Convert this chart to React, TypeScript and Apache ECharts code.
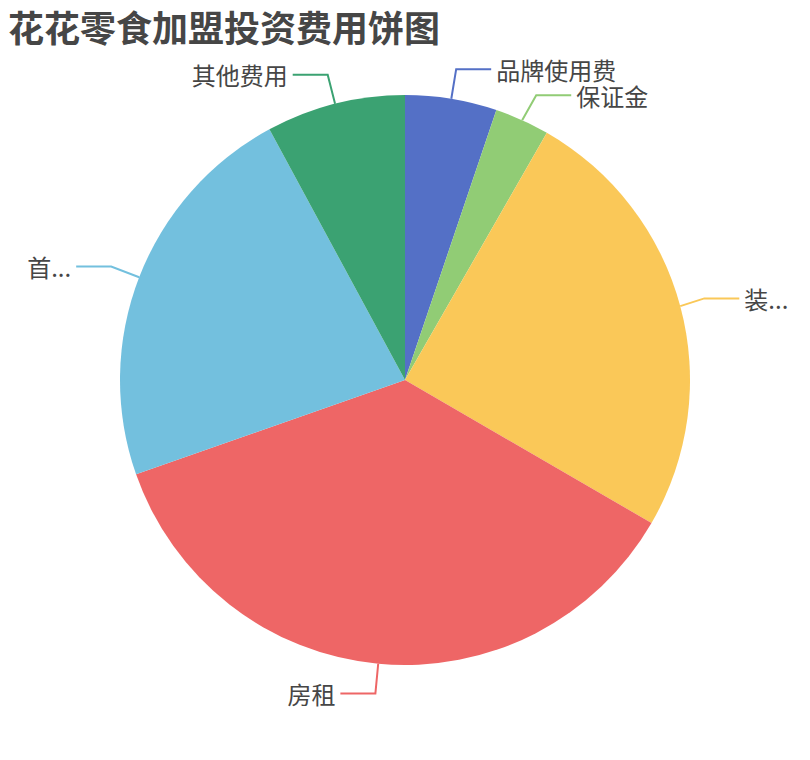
import { useEffect, useRef } from "react";
import * as echarts from "echarts";

// investment items (万元), clockwise from 12 o'clock
const names = ["品牌使用费", "保证金", "装修费用", "房租", "首批进货费用", "其他费用"];
const values = [5.2, 3.1, 25.1, 36.3, 22.5, 7.9];
const colors = ["#5470c6", "#91cc75", "#fac858", "#ee6666", "#73c0de", "#3ba272"];

const FONT = "'Noto Sans CJK SC', 'Noto Sans', sans-serif";

export default function App() {
  const chartRef = useRef<HTMLDivElement>(null);

  useEffect(() => {
    if (!chartRef.current) return;
    const chart = echarts.init(chartRef.current, null, { renderer: "svg" });
    chart.setOption({
      animation: false,
      color: colors,
      title: {
        text: "花花零食加盟投资费用饼图",
        left: 0,
        top: 0,
        padding: 0,
        textStyle: {
          fontSize: 36,
          fontWeight: "bold",
          color: "#464646",
          fontFamily: FONT,
        },
      },
      series: [
        {
          type: "pie",
          center: ["50%", "50%"],
          radius: 285,
          startAngle: 90,
          itemStyle: { borderWidth: 0 },
          label: {
            show: true,
            fontSize: 24,
            color: "#464646",
            fontFamily: FONT,
          },
          labelLine: { length: 30, length2: 35, lineStyle: { width: 2 } },
          emphasis: { disabled: true },
          data: names.map((n, i) => ({ name: n, value: values[i] })),
        },
      ],
    });
    return () => chart.dispose();
  }, []);

  return <div ref={chartRef} style={{ width: "100%", height: 744 }} />;
}
